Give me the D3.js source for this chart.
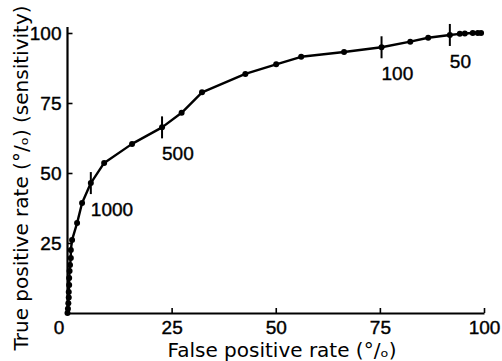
<!DOCTYPE html>
<html>
<head>
<meta charset="utf-8">
<script src="https://cdn.jsdelivr.net/npm/d3@7"></script>
<style>
  body { margin: 0; background: #fff; }
  text { font-family: "Liberation Sans", Arial, sans-serif; fill: #000; }
  .title { font-family: "DejaVu Sans", sans-serif; }
</style>
</head>
<body>
<div id="chart"></div>
<script>
// ROC curve (false positive %, true positive %)
var fpr = [0, 0.1, 0.2, 0.3, 0.3, 0.4, 0.4, 0.5, 0.6, 0.8, 0.8, 1.1, 2.3, 3.5, 5.6, 8.8, 15.5, 22.7, 27.4, 32.3, 42.7, 50.1, 56.1, 66.4, 75.4, 82.3, 86.6, 91.8, 94.2, 95.4, 97.3, 98.5, 99.3]
var tpr = [0, 1.5, 3.5, 5.5, 7.5, 10, 12.5, 15, 17.1, 19.6, 22.5, 26.1, 32.1, 39.3, 46.4, 53.6, 60.4, 66.3, 71.5, 78.8, 85.4, 88.8, 91.5, 93.2, 94.9, 96.9, 98.3, 99.3, 99.7, 99.8, 100, 100, 100]

// cut-off values marked with a cross
var cutLabels = ["1000", "500", "100", "50"]
var cutFpr = [5.6, 22.7, 75.4, 91.8]
var cutTpr = [46.4, 66.3, 94.9, 99.3]

var xTicks = [0, 25, 50, 75, 100]
var yTicks = [25, 50, 75, 100]

var width = 502, height = 361

var svg = d3.select("#chart")
  .append("svg")
    .attr("width", width)
    .attr("height", height)

var x = d3.scaleLinear().domain([0, 100]).range([67.5, 484])
var y = d3.scaleLinear().domain([0, 100]).range([313, 33])

// x axis
var gx = svg.append("g")
    .attr("transform", "translate(0," + y(0) + ")")
    .call(d3.axisBottom(x).tickValues(xTicks).tickSizeInner(-5).tickSizeOuter(0).tickPadding(8))
gx.select(".domain").attr("stroke-width", 2.2)
gx.selectAll(".tick line").attr("stroke-width", 1.6)
gx.selectAll(".tick").filter(function(d) { return d == 0 }).select("line").remove()
gx.selectAll(".tick text")
    .style("font-size", "19px")
    .style("stroke", "#000").style("stroke-width", 0.4)
    .attr("dx", function(d) { return d == 0 ? -9 : 0 })

// y axis
var gy = svg.append("g")
    .attr("transform", "translate(" + x(0) + ",0)")
    .call(d3.axisLeft(y).tickValues(yTicks).tickSizeInner(-5).tickSizeOuter(0).tickPadding(6))
gy.select(".domain").attr("d", "M0," + y(0) + "V" + (y(100) - 6)).attr("stroke-width", 2.2)
gy.selectAll(".tick line").attr("stroke-width", 1.6)
gy.selectAll(".tick text").style("font-size", "19px")
    .style("stroke", "#000").style("stroke-width", 0.4)

// axis titles
svg.append("text")
    .attr("class", "title")
    .attr("x", 282).attr("y", 357)
    .attr("text-anchor", "middle")
    .style("font-size", "20px")
    .text("False positive rate (°/ₒ)")

svg.append("text")
    .attr("class", "title")
    .attr("transform", "translate(28,178)rotate(-90)")
    .attr("text-anchor", "middle")
    .style("font-size", "20px")
    .text("True positive rate (°/ₒ) (sensitivity)")

// curve
var pts = fpr.map(function(f, i) { return [f, tpr[i]] })
svg.append("path")
    .datum(pts)
    .attr("fill", "none")
    .attr("stroke", "#000")
    .attr("stroke-width", 2.4)
    .attr("stroke-linejoin", "round")
    .attr("d", d3.line().x(function(d) { return x(d[0]) }).y(function(d) { return y(d[1]) }))

svg.selectAll("circle.pt")
  .data(pts)
  .enter()
  .append("circle")
    .attr("class", "pt")
    .attr("cx", function(d) { return x(d[0]) })
    .attr("cy", function(d) { return y(d[1]) })
    .attr("r", 3)
    .attr("fill", "#000")

// cut-off crosses and labels
for (let i = 0; i < cutLabels.length; i++) {
  svg.append("line")
    .attr("x1", x(cutFpr[i])).attr("x2", x(cutFpr[i]))
    .attr("y1", y(cutTpr[i]) - 11).attr("y2", y(cutTpr[i]) + 11)
    .attr("stroke", "#000")
    .attr("stroke-width", 2)
  svg.append("text")
    .attr("x", x(cutFpr[i]))
    .attr("y", y(cutTpr[i]) + 33)
    .style("font-size", "19px")
    .style("stroke", "#000").style("stroke-width", 0.4)
    .text(cutLabels[i])
}
</script>
</body>
</html>
